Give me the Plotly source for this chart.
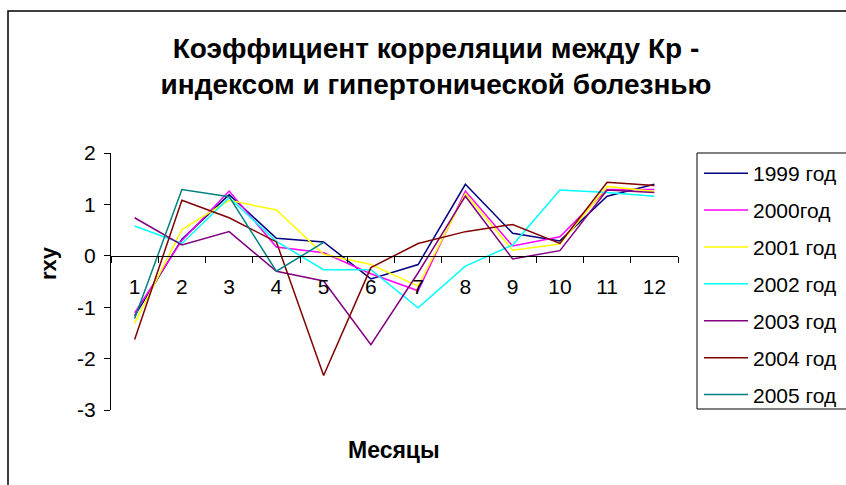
import plotly.graph_objects as go

months = ["1", "2", "3", "4", "5", "6", "7", "8", "9", "10", "11", "12"]

y1999 = [-1.17, 0.32, 1.19, 0.34, 0.27, -0.45, -0.17, 1.39, 0.44, 0.29, 1.16, 1.39]
y2000 = [-1.11, 0.30, 1.26, 0.17, 0.06, -0.35, -0.68, 1.26, 0.19, 0.37, 1.29, 1.29]
y2001 = [-1.31, 0.51, 1.08, 0.89, 0.03, -0.17, -0.59, 1.21, 0.11, 0.23, 1.35, 1.25]
y2002 = [0.58, 0.24, 1.13, 0.28, -0.27, -0.27, -1.01, -0.20, 0.21, 1.28, 1.23, 1.16]
y2003 = [0.74, 0.21, 0.47, -0.30, -0.49, -1.73, -0.33, 1.16, -0.06, 0.10, 1.28, 1.23]
y2004 = [-1.63, 1.08, 0.74, 0.27, -2.33, -0.23, 0.24, 0.47, 0.61, 0.24, 1.43, 1.37]
y2005 = [-1.22, 1.29, 1.15, -0.30, 0.26, None, None, None, None, None, None, None]

series_names = ["1999 год", "2000год", "2001 год", "2002 год", "2003 год", "2004 год", "2005 год"]
series_values = [y1999, y2000, y2001, y2002, y2003, y2004, y2005]
series_colors = ["#000080", "#FF00FF", "#FFFF00", "#00FFFF", "#800080", "#800000", "#008080"]

y_tickvals = [2, 1, 0, -1, -2, -3]
y_ticktext = ["2", "1", "0", "-1", "-2", "-3"]

FONT = "Arial, Liberation Sans, sans-serif"

fig = go.Figure()
for i, (name, vals, col) in enumerate(zip(series_names, series_values, series_colors)):
    fig.add_trace(go.Scatter(
        x=months, y=vals, mode="lines", name=name,
        line=dict(color=col, width=1.5),
        legendgroup="g%d" % i,
        connectgaps=False,
    ))

# paper area in pixels: x 111..846, y 153..410 ; x axis occupies 111..678
W, H = 846, 485
L, R, T, B = 111, 846, 153, 410
AXR = 678
pw, ph = R - L, B - T

def px(x):
    return (x - L) / pw

def py(y):
    return (B - y) / ph

zero_pos = (B - (T + (B - T) * 2 / 5)) / ph  # paper y of value 0

fig.update_layout(
    width=W, height=H,
    margin=dict(l=L, r=W - R, t=T, b=H - B, pad=0),
    paper_bgcolor="white", plot_bgcolor="white",
    font=dict(family=FONT, color="black", size=21),
    title=dict(
        text="<b>Коэффициент корреляции между Кр -<br>индексом и гипертонической болезнью</b>",
        x=436 / W, xref="container", xanchor="center",
        y=1 - 58 / H, yref="container", yanchor="middle",
        font=dict(family=FONT, size=28, color="black"),
    ),
    xaxis=dict(
        domain=[0, px(AXR)],
        type="category", categoryorder="array", categoryarray=months,
        range=[-0.5, 11.5],
        tickson="boundaries", ticks="outside", ticklen=6, tickcolor="black",
        showline=True, linecolor="black", linewidth=1,
        showgrid=False, zeroline=False,
        anchor="free", position=zero_pos,
        tickfont=dict(family=FONT, size=21, color="black"),
        ticklabelstandoff=12,
    ),
    yaxis=dict(
        range=[-3, 2], tickvals=y_tickvals, ticktext=y_ticktext,
        ticks="outside", ticklen=6, tickcolor="black",
        showline=True, linecolor="black", linewidth=1,
        showgrid=False, zeroline=False,
        tickfont=dict(family=FONT, size=21, color="black"),
        ticklabelstandoff=4,
    ),
    showlegend=True,
    legend=dict(
        x=px(699), y=1.0, xanchor="left", yanchor="top",
        bgcolor="rgba(0,0,0,0)", borderwidth=0,
        font=dict(family=FONT, size=21, color="black"),
        tracegroupgap=6.6,
        itemwidth=44,
        maxheight=460,
    ),
    annotations=[
        dict(text="<b>Месяцы</b>", xref="paper", yref="paper",
             x=px(394), y=py(450), showarrow=False,
             xanchor="center", yanchor="middle",
             font=dict(family=FONT, size=23, color="black")),
        dict(text="<b>rxy</b>", xref="paper", yref="paper",
             x=px(48), y=py(263), showarrow=False, textangle=-90,
             xanchor="center", yanchor="middle",
             font=dict(family=FONT, size=22, color="black")),
    ],
    shapes=[
        dict(type="rect", xref="paper", yref="paper",
             x0=px(8), x1=px(1000), y0=py(11), y1=py(700),
             line=dict(color="black", width=1.5), fillcolor="rgba(0,0,0,0)", layer="below"),
        dict(type="rect", xref="paper", yref="paper",
             x0=px(697), x1=px(1000), y0=py(153), y1=py(409),
             line=dict(color="black", width=1), fillcolor="rgba(0,0,0,0)", layer="above"),
    ],
)

fig.write_html(
    "out.html",
    config={"displayModeBar": False},
    post_script="document.body.style.margin='0';document.body.style.overflow='hidden';",
)
